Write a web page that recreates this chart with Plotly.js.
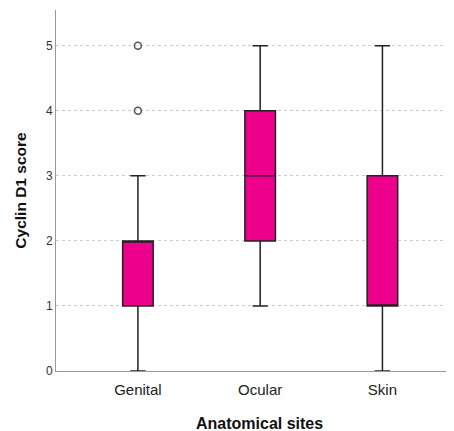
<!DOCTYPE html>
<html><head><meta charset="utf-8">
<script src="https://cdn.plot.ly/plotly-3.0.1.min.js"></script>
<style>html,body{margin:0;padding:0;background:#fff}</style>
</head><body>
<div id="chart" style="width:454px;height:431px"></div>
<script>
const categories = ["Genital", "Ocular", "Skin"];
const lowerWhisker = [0, 1, 0];
const q1Values = [1, 2, 1];
const medians = [2, 3, 1];
const q3Values = [2, 4, 3];
const upperWhisker = [3, 5, 5];
const outlierCategory = ["Genital", "Genital"];
const outlierValues = [4, 5];
const yTicks = [0, 1, 2, 3, 4, 5];

const pos = categories.map((c, i) => i);
const traces = [{
  type: 'box',
  x: pos,
  q1: q1Values,
  median: medians,
  q3: q3Values,
  lowerfence: lowerWhisker,
  upperfence: upperWhisker,
  width: 0.25,
  whiskerwidth: 0.5,
  fillcolor: '#EC008C',
  line: {color: '#222222', width: 1.5},
  boxpoints: false,
  hoverinfo: 'skip',
  showlegend: false
}, {
  type: 'scatter',
  mode: 'markers',
  x: outlierCategory.map(c => categories.indexOf(c)),
  y: outlierValues,
  marker: {symbol: 'circle-open', size: 7, color: '#555555', line: {width: 1.5, color: '#555555'}},
  showlegend: false,
  hoverinfo: 'skip'
}];

const titleFont = {color: '#111', family: 'Arial, Liberation Sans, sans-serif', weight: 'bold'};
const layout = {
  width: 454, height: 431,
  margin: {l: 56, r: 8, t: 10, b: 60},
  paper_bgcolor: '#fff', plot_bgcolor: '#fff',
  font: {family: 'Arial, Liberation Sans, sans-serif', color: '#333'},
  xaxis: {
    range: [-0.67, 2.52],
    tickvals: pos, ticktext: categories,
    showgrid: false, zeroline: false,
    showline: true, linecolor: '#999', linewidth: 1,
    ticks: '', ticklabelstandoff: 5, tickfont: {size: 15, color: '#222'}
  },
  yaxis: {
    range: [0, 5.55],
    tickvals: yTicks,
    showgrid: true, gridcolor: '#cccccc', griddash: '3px,3px', gridwidth: 1,
    zeroline: false,
    showline: true, linecolor: '#999', linewidth: 1,
    ticks: '', tickfont: {size: 12, color: '#333'},
    title: {text: 'Cyclin D1 score', font: Object.assign({size: 15.5}, titleFont), standoff: 15}
  },
  annotations: [{
    text: 'Anatomical sites', showarrow: false,
    xref: 'paper', yref: 'paper', x: 0.523, y: -0.145,
    xanchor: 'center', yanchor: 'middle',
    font: Object.assign({size: 16}, titleFont)
  }]
};
Plotly.newPlot('chart', traces, layout, {displayModeBar: false, staticPlot: true});
</script>
</body></html>
